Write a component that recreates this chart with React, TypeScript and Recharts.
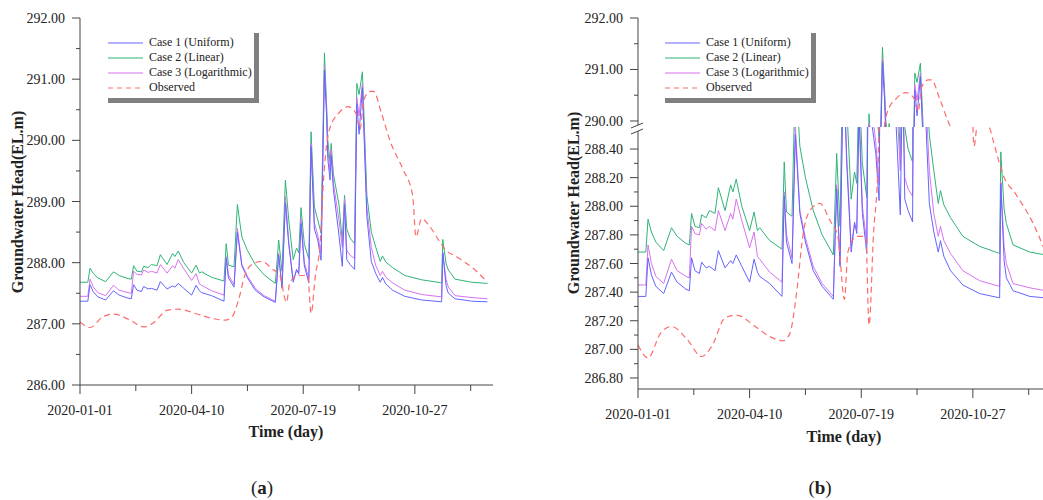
import React from "react";
import { LineChart, Line, XAxis, YAxis, Legend } from "recharts";

// simulated heads (day 0 = 2020-01-01)
const days = [
  0, 7, 9, 12, 16, 23, 30, 35, 43, 46, 48, 51, 55, 57, 61, 64, 69, 72, 78, 83, 85, 88, 93, 100, 104, 107, 109, 118,
  129, 131, 133, 138, 141, 145, 150, 157, 165, 175, 178, 181, 184, 187, 191, 194, 196, 198, 201, 205, 207, 210, 213,
  216, 219, 221, 222, 224, 225, 227, 232, 235, 237, 239, 242, 246, 248, 250, 253, 257, 261, 265, 269, 271, 274, 280,
  291, 306, 324, 325, 328, 330, 336, 351, 365,
];
const case1 = [
  287.37, 287.37, 287.64, 287.52, 287.44, 287.39, 287.54, 287.47, 287.42, 287.41, 287.64, 287.55, 287.53, 287.61,
  287.57, 287.58, 287.55, 287.69, 287.57, 287.62, 287.6, 287.66, 287.58, 287.47, 287.63, 287.54, 287.51, 287.46,
  287.37, 288.07, 287.75, 287.6, 288.5, 287.95, 287.75, 287.55, 287.44, 287.35, 288.12, 287.58, 288.97, 288.3,
  287.68, 287.89, 287.81, 288.64, 287.95, 287.67, 289.9, 288.55, 288.37, 288.04, 291.15, 290.37, 289.7, 289.35,
  289.75, 289.2, 288.45, 287.94, 288.95, 288.05, 287.97, 287.89, 290.6, 290.1, 290.86, 288.75, 288.02, 287.82,
  287.68, 287.76, 287.65, 287.55, 287.45, 287.39, 287.36, 288.16, 287.62, 287.5, 287.41, 287.37, 287.36,
];
const case2 = [
  287.68, 287.68, 287.91, 287.82, 287.75, 287.69, 287.85, 287.79, 287.74, 287.73, 287.95, 287.86, 287.85, 287.94,
  287.92, 287.97, 287.95, 288.13, 287.97, 288.15, 288.1, 288.19, 288.0, 287.83, 287.96, 287.83, 287.85, 287.76,
  287.7, 288.31, 287.96, 287.93, 288.95, 288.42, 288.2, 287.97, 287.8, 287.66, 288.37, 287.86, 289.35, 288.7,
  288.05, 288.24, 288.16, 288.9, 288.3, 288.06, 290.14, 288.91, 288.7, 288.48, 291.43, 290.54, 290.0, 289.65,
  289.95, 289.45, 288.95, 288.35, 289.1, 288.55, 288.4, 288.31, 290.93, 290.75, 291.12, 289.1, 288.5, 288.25,
  288.02, 288.11, 288.01, 287.92, 287.79, 287.72, 287.67, 288.38, 287.98, 287.88, 287.73, 287.68, 287.66,
];
const case3 = [
  287.45, 287.45, 287.73, 287.6, 287.51, 287.46, 287.63, 287.55, 287.51, 287.5, 287.86, 287.81, 287.8, 287.88,
  287.84, 287.86, 287.83, 287.97, 287.83, 287.95, 287.91, 288.05, 287.9, 287.71, 287.82, 287.65, 287.63, 287.54,
  287.47, 288.1, 287.8, 287.64, 288.56, 287.97, 287.78, 287.58, 287.46, 287.37, 288.15, 287.6, 289.08, 288.35,
  287.72, 287.87, 287.84, 288.72, 288.0, 287.74, 289.95, 288.65, 288.45, 288.15, 291.22, 290.45, 289.85, 289.5,
  289.85, 289.3, 288.7, 288.25, 289.05, 288.2, 288.12, 288.07, 290.7, 290.4, 290.93, 288.9, 288.25, 287.95,
  287.79, 287.86, 287.76, 287.67, 287.55, 287.48, 287.44, 288.17, 287.72, 287.6, 287.46, 287.43, 287.41,
];

// observed heads
const obsDays = [
  0, 9, 20, 30, 44, 57, 66, 78, 88, 105, 118, 130, 136, 142, 148, 154, 163, 172, 179, 185, 188, 196, 204, 207, 211,
  215, 218, 223, 232, 240, 247, 251, 254, 260, 263, 270, 278, 289, 298, 301, 306, 313, 322, 327, 338, 354, 365,
];
const observed = [
  287.03, 286.94, 287.11, 287.16, 287.07, 286.95, 287.02, 287.22, 287.24, 287.16, 287.09, 287.06, 287.11, 287.39,
  287.81, 287.97, 288.02, 287.9, 287.79, 287.35, 287.68, 287.79, 287.79, 287.17, 287.81, 288.28, 289.3, 290.15,
  290.45, 290.55, 290.45, 290.18, 290.65, 290.8, 290.8, 290.45, 289.98, 289.54, 289.1, 288.42, 288.72, 288.6,
  288.35, 288.22, 288.09, 287.88, 287.68,
];

const dayTicks = [0, 50, 100, 150, 200, 250, 300, 350];
const dateLabels = ["2020-01-01", "2020-04-10", "2020-07-19", "2020-10-27"];
const yTicksA = [286, 286.5, 287, 287.5, 288, 288.5, 289, 289.5, 290, 290.5, 291, 291.5, 292];
const yTicksBLow = [
  286.8, 286.9, 287.0, 287.1, 287.2, 287.3, 287.4, 287.5, 287.6, 287.7, 287.8, 287.9, 288.0, 288.1, 288.2, 288.3,
  288.4,
];
const yTicksBHigh = [290, 290.5, 291, 291.5, 292];

const caseRows = days.map((d, i) => ({ day: d, c1: case1[i], c2: case2[i], c3: case3[i] }));
const obsRows = obsDays.map((d, i) => ({ day: d, obs: observed[i] }));

const FONT = "'Liberation Serif', 'Times New Roman', serif";
const AXIS = "#444";
const BORDER = "#9a9a9a";
const TEXT = "#222";

const series = [
  { key: "c1", name: "Case 1 (Uniform)", color: "#6464ff" },
  { key: "c2", name: "Case 2 (Linear)", color: "#2fb476" },
  { key: "c3", name: "Case 3 (Logarithmic)", color: "#d872f0" },
  { key: "obs", name: "Observed", color: "#ff6b6b", dash: "5 4" },
];
const colorOf = (k: string) => series.find((s) => s.key === k)!.color;

function renderLines() {
  // drawing order: linear, log, uniform, observed on top
  return [
    <Line key="c2" data={caseRows} dataKey="c2" name="Case 2 (Linear)" type="linear" stroke={colorOf("c2")}
      strokeWidth={1} dot={false} activeDot={false} isAnimationActive={false} />,
    <Line key="c3" data={caseRows} dataKey="c3" name="Case 3 (Logarithmic)" type="linear" stroke={colorOf("c3")}
      strokeWidth={1} dot={false} activeDot={false} isAnimationActive={false} />,
    <Line key="c1" data={caseRows} dataKey="c1" name="Case 1 (Uniform)" type="linear" stroke={colorOf("c1")}
      strokeWidth={1} dot={false} activeDot={false} isAnimationActive={false} />,
    <Line key="obs" data={obsRows} dataKey="obs" name="Observed" type="monotone" stroke={colorOf("obs")}
      strokeWidth={1.2} strokeDasharray="6 4" dot={false} activeDot={false} isAnimationActive={false} />,
  ];
}

const makeYTick = (isMajor: (v: number) => boolean) => (p: any) => {
  const v = p.payload.value as number;
  const major = isMajor(v);
  return (
    <g>
      <line x1={p.x} x2={p.x - (major ? 8 : 4)} y1={p.y} y2={p.y} stroke={AXIS} />
      {major && (
        <text x={p.x - 15} y={p.y} dy={5} textAnchor="end" fontSize={14} fontFamily={FONT} fill={TEXT}>
          {v.toFixed(2)}
        </text>
      )}
    </g>
  );
};
const intMajor = (v: number) => Math.abs(v - Math.round(v)) < 1e-6;
const evenTenthMajor = (v: number) => Math.round(v * 10) % 2 === 0;

const xTick = (p: any) => {
  const v = p.payload.value as number;
  const major = v % 100 === 0;
  return (
    <g>
      <line x1={p.x} x2={p.x} y1={p.y} y2={p.y + (major ? 9 : 6)} stroke={AXIS} />
      {major && (
        <text x={p.x} y={p.y + 30} textAnchor="middle" fontSize={14} fontFamily={FONT} fill={TEXT}>
          {dateLabels[v / 100]}
        </text>
      )}
    </g>
  );
};

function LegendBox() {
  return (
    <div
      style={{
        width: 146,
        paddingTop: 2,
        paddingBottom: 3,
        background: "#fff",
        borderRight: "5px solid #808080",
        borderBottom: "5px solid #808080",
        fontFamily: FONT,
        fontSize: 12,
        color: TEXT,
      }}
    >
      {series.map((s) => (
        <div key={s.key} style={{ display: "flex", alignItems: "center", height: 15 }}>
          <svg width={35} height={4} style={{ display: "block" }}>
            <line x1={0} x2={35} y1={2} y2={2} stroke={s.color} strokeWidth={1.2} strokeDasharray={s.dash} />
          </svg>
          <span style={{ marginLeft: 6, whiteSpace: "nowrap" }}>{s.name}</span>
        </div>
      ))}
    </div>
  );
}

const abs = (left: number, top: number): React.CSSProperties => ({ position: "absolute", left, top });

function AxisTitleY({ x, y }: { x: number; y: number }) {
  return (
    <div
      style={{
        ...abs(x, y),
        transform: "translate(-50%, -50%) rotate(-90deg)",
        whiteSpace: "nowrap",
        fontFamily: FONT,
        fontWeight: "bold",
        fontSize: 16,
        color: TEXT,
      }}
    >
      Groundwater Head(EL.m)
    </div>
  );
}

function AxisTitleX({ x, y }: { x: number; y: number }) {
  return (
    <div
      style={{
        ...abs(x, y),
        transform: "translate(-50%, -50%)",
        whiteSpace: "nowrap",
        fontFamily: FONT,
        fontWeight: "bold",
        fontSize: 16,
        color: TEXT,
      }}
    >
      Time (day)
    </div>
  );
}

function Caption({ x, letter }: { x: number; letter: string }) {
  return (
    <div style={{ ...abs(x, 488), transform: "translate(-50%, -50%)", fontFamily: FONT, fontSize: 19, color: TEXT }}>
      (<b>{letter}</b>)
    </div>
  );
}

export default function App() {
  return (
    <div style={{ ...abs(0, 0), width: 1043, height: 500, overflow: "hidden", background: "#fff" }}>
      {/* (a) full scale */}
      <div style={abs(0, 0)}>
        <LineChart width={500} height={450} margin={{ top: 18, right: 7, bottom: 0, left: 0 }}>
          <XAxis dataKey="day" type="number" domain={[0, 370]} allowDataOverflow ticks={dayTicks} interval={0}
            height={65} tickSize={0} tickMargin={0} tickLine={false} tick={xTick} axisLine={{ stroke: AXIS }} />
          <XAxis xAxisId="top" orientation="top" type="number" domain={[0, 370]} height={0} tick={false}
            tickLine={false} axisLine={{ stroke: BORDER }} />
          <YAxis type="number" domain={[286, 292]} allowDataOverflow ticks={yTicksA} interval={0} width={80}
            tickSize={0} tickMargin={0} tickLine={false} tick={makeYTick(intMajor)} axisLine={{ stroke: AXIS }} />
          <YAxis yAxisId="right" orientation="right" type="number" domain={[0, 1]} width={0} tick={false}
            tickLine={false} axisLine={{ stroke: BORDER }} />
          <Legend layout="vertical" align="center" verticalAlign="middle" content={() => <LegendBox />}
            wrapperStyle={{ left: 108, top: 33, width: "auto", height: "auto" }} />
          {renderLines()}
        </LineChart>
      </div>

      {/* (b) broken axis: lower part */}
      <div style={abs(540, 127)}>
        <LineChart width={511} height={330} margin={{ top: 0, right: 0, bottom: 0, left: 0 }}>
          <XAxis dataKey="day" type="number" domain={[0, 370]} allowDataOverflow ticks={dayTicks} interval={0}
            height={68} tickSize={0} tickMargin={0} tickLine={false} tick={xTick} axisLine={{ stroke: AXIS }} />
          <YAxis type="number" domain={[286.723, 288.554]} allowDataOverflow ticks={yTicksBLow} interval={0}
            width={98} tickSize={0} tickMargin={0} tickLine={false} tick={makeYTick(evenTenthMajor)}
            axisLine={{ stroke: AXIS }} />
          {renderLines()}
        </LineChart>
      </div>

      {/* (b) broken axis: upper part (taller svg so the 290.00 label is not cut) */}
      <div style={abs(540, 0)}>
        <LineChart width={511} height={142} margin={{ top: 18, right: 0, bottom: 15, left: 0 }}>
          <XAxis dataKey="day" type="number" domain={[0, 370]} allowDataOverflow hide />
          <XAxis xAxisId="top" orientation="top" type="number" domain={[0, 370]} height={0} tick={false}
            tickLine={false} axisLine={{ stroke: BORDER }} />
          <YAxis type="number" domain={[289.883, 292]} allowDataOverflow ticks={yTicksBHigh} interval={0} width={98}
            tickSize={0} tickMargin={0} tickLine={false} tick={makeYTick(intMajor)} axisLine={{ stroke: AXIS }} />
          <Legend layout="vertical" align="center" verticalAlign="middle" content={() => <LegendBox />}
            wrapperStyle={{ left: 125, top: 33, width: "auto", height: "auto" }} />
          {renderLines()}
        </LineChart>
      </div>

      {/* axis break mark */}
      <svg style={abs(626, 118)} width={22} height={20}>
        <polygon points="5,10 17,5 17,11 5,16" fill="#fff" />
        <line x1={5} y1={10} x2={17} y2={5} stroke={AXIS} />
        <line x1={5} y1={16} x2={17} y2={11} stroke={AXIS} />
      </svg>

      <AxisTitleY x={18} y={202} />
      <AxisTitleY x={574} y={203} />
      <AxisTitleX x={286} y={432} />
      <AxisTitleX x={844} y={437} />
      <Caption x={262} letter="a" />
      <Caption x={820} letter="b" />
    </div>
  );
}
